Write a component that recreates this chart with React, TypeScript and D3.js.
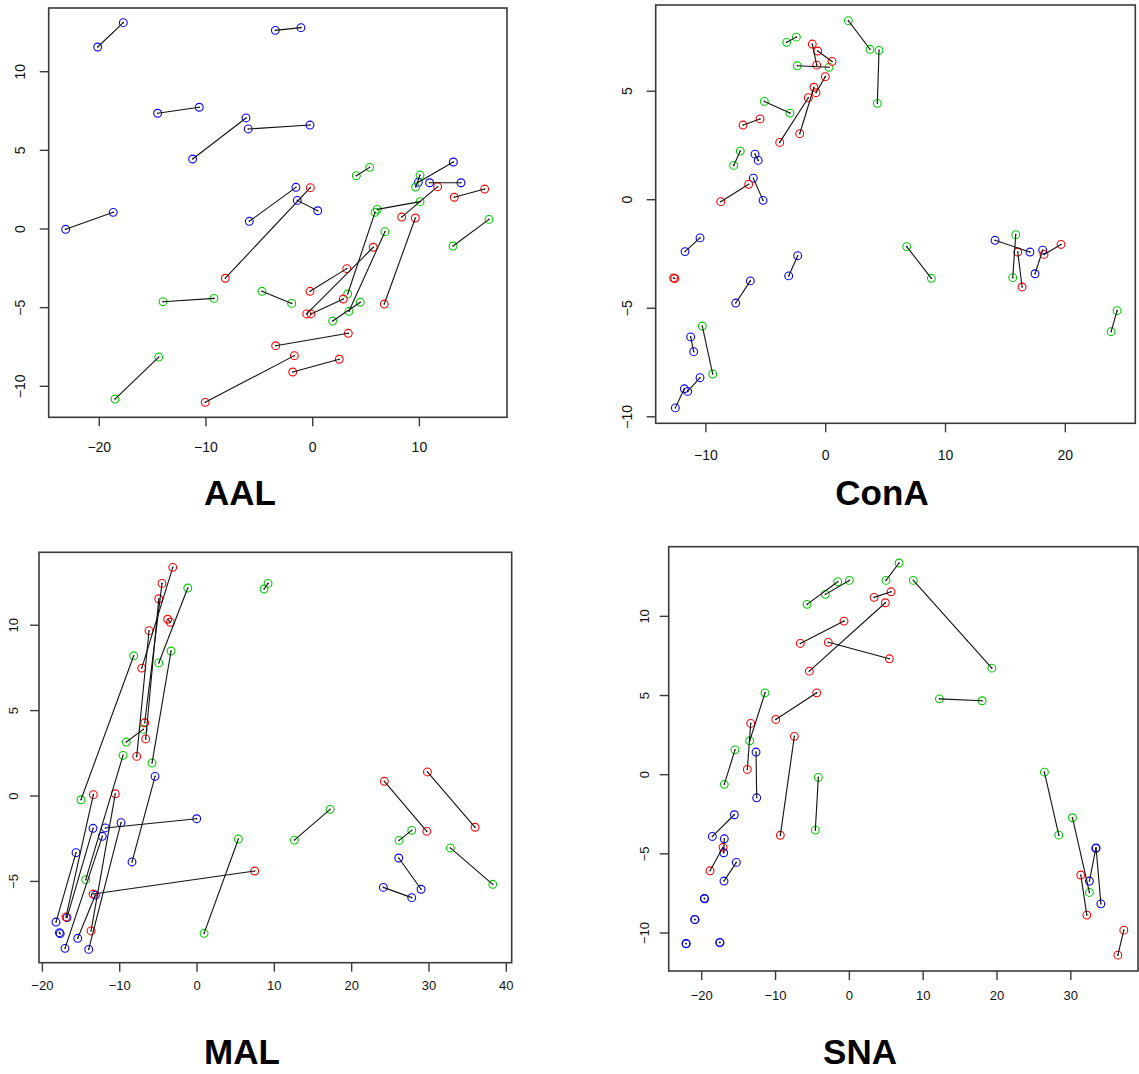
import React from "react";
import * as d3 from "d3";

// Each segment joins two embeddings of one sample: [x1, y1, x2, y2]
type Seg = [number, number, number, number];

// ---- AAL ----
const aalBlue: Seg[] = [
  [-20.15, 11.57, -17.75, 13.12],
  [-3.5, 12.63, -1.1, 12.8],
  [-14.53, 7.36, -10.63, 7.74],
  [-11.25, 4.45, -6.25, 7.06],
  [-6.04, 6.36, -0.25, 6.61],
  [-23.15, -0.02, -18.69, 1.06],
  [-5.94, 0.49, -1.57, 2.65],
  [-1.44, 1.82, 0.47, 1.16],
  [13.18, 4.26, 9.9, 2.97],
  [10.96, 2.94, 13.9, 2.94],
];
const aalGreen: Seg[] = [
  [4.09, 3.39, 5.34, 3.92],
  [10.06, 3.43, 9.65, 2.67],
  [10.06, 1.74, 6.05, 1.25],
  [16.52, 0.61, 13.15, -1.08],
  [5.84, 1.06, 3.28, -4.13],
  [6.77, -0.17, 3.4, -5.23],
  [1.87, -5.85, 4.46, -4.66],
  [-4.75, -3.96, -1.97, -4.73],
  [-14.03, -4.62, -9.25, -4.41],
  [-18.53, -10.81, -14.43, -8.14],
];
const aalRed: Seg[] = [
  [11.71, 2.69, 8.34, 0.76],
  [13.27, 2.02, 16.12, 2.54],
  [6.71, -4.77, 9.62, 0.7],
  [-0.22, 2.63, -8.19, -3.13],
  [-0.25, -3.96, 3.19, -2.52],
  [-0.56, -5.4, 5.68, -1.16],
  [-0.16, -5.4, 2.87, -4.45],
  [-3.47, -7.42, 3.34, -6.63],
  [-10.07, -11.02, -1.72, -8.05],
  [-1.87, -9.09, 2.49, -8.28],
];

// ---- ConA ----
const conaBlue: Seg[] = [
  [-5.9, 2.1, -5.63, 1.81],
  [-6.04, 0.99, -5.23, -0.03],
  [-10.49, -1.76, -11.74, -2.39],
  [-2.34, -2.58, -3.09, -3.51],
  [-6.29, -3.74, -7.51, -4.76],
  [-11.27, -6.32, -11.02, -7.0],
  [-10.49, -8.2, -11.52, -8.83],
  [-11.8, -8.71, -12.55, -9.59],
  [14.13, -1.87, 17.05, -2.41],
  [18.11, -2.32, 17.47, -3.41],
];
const conaGreen: Seg[] = [
  [1.89, 8.25, 3.7, 6.93],
  [4.45, 6.88, 4.31, 4.44],
  [-3.26, 7.25, -2.45, 7.49],
  [-2.37, 6.17, 0.28, 6.1],
  [-5.12, 4.53, -2.98, 3.99],
  [-7.13, 2.24, -7.68, 1.58],
  [-10.3, -5.82, -9.43, -8.03],
  [6.76, -2.16, 8.82, -3.62],
  [15.86, -1.61, 15.61, -3.59],
  [24.32, -5.11, 23.82, -6.08],
];
const conaRed: Seg[] = [
  [-1.12, 7.17, -0.75, 6.2],
  [-0.67, 6.85, 0.53, 6.37],
  [-0.03, 5.67, -0.81, 4.93],
  [-3.84, 2.64, -1.45, 4.7],
  [-2.17, 3.04, -0.98, 5.18],
  [-6.9, 3.44, -5.48, 3.72],
  [-8.76, -0.09, -6.43, 0.71],
  [-12.7, -3.6, -12.6, -3.63],
  [16.03, -2.41, 16.39, -4.02],
  [18.22, -2.52, 19.64, -2.06],
];

// ---- MAL ----
const malBlue: Seg[] = [
  [-11.86, -1.87, -0.04, -1.33],
  [-8.41, -3.86, -5.43, 1.15],
  [-18.24, -7.38, -15.65, -3.32],
  [-16.82, -7.12, -13.45, -1.89],
  [-14.01, -8.98, -9.83, -1.56],
  [-17.8, -8.0, -17.7, -8.06],
  [-17.08, -8.92, -12.25, -2.36],
  [-15.43, -8.33, -13.15, -5.8],
  [26.09, -3.63, 28.98, -5.46],
  [24.1, -5.35, 27.77, -5.95],
];
const malGreen: Seg[] = [
  [-15.01, -0.22, -8.19, 8.21],
  [-14.4, -4.9, -9.57, 2.38],
  [-9.15, 3.16, -6.95, 3.9],
  [-3.36, 8.49, -5.82, 1.93],
  [-1.2, 12.18, -4.95, 7.79],
  [8.67, 12.12, 9.19, 12.45],
  [5.35, -2.52, 0.91, -8.04],
  [12.59, -2.58, 17.21, -0.78],
  [26.13, -2.6, 27.77, -2.01],
  [32.77, -3.04, 38.25, -5.17],
];
const malRed: Seg[] = [
  [-16.95, -7.08, -13.41, 0.08],
  [-13.71, -7.9, -10.57, 0.13],
  [-13.45, -5.74, 7.46, -4.39],
  [-3.14, 13.39, -7.15, 7.49],
  [-4.53, 12.45, -6.77, 4.29],
  [-4.95, 11.55, -6.64, 3.34],
  [-6.21, 9.68, -7.8, 2.32],
  [-3.79, 10.35, -3.45, 10.17],
  [24.23, 0.86, 29.72, -2.07],
  [29.8, 1.41, 35.96, -1.83],
];

// ---- SNA ----
const snaBlue: Seg[] = [
  [-12.64, 1.43, -12.55, -1.46],
  [-15.58, -2.53, -18.56, -3.9],
  [-16.94, -4.05, -17.02, -4.93],
  [-15.31, -5.54, -16.98, -6.72],
  [-19.65, -7.81, -19.6, -7.84],
  [-20.95, -9.14, -20.9, -9.16],
  [-22.13, -10.66, -22.1, -10.68],
  [-17.56, -10.59, -17.52, -10.61],
  [33.38, -4.66, 32.52, -6.72],
  [33.42, -4.62, 34.07, -8.16],
];
const snaGreen: Seg[] = [
  [-5.73, 10.76, -1.57, 12.19],
  [-3.25, 11.39, 0.0, 12.27],
  [-11.42, 5.17, -13.5, 2.14],
  [-15.49, 1.57, -16.94, -0.61],
  [-4.2, -0.17, -4.61, -3.5],
  [6.73, 13.37, 4.97, 12.27],
  [8.67, 12.27, 19.3, 6.73],
  [12.2, 4.79, 17.98, 4.67],
  [26.42, 0.16, 28.37, -3.82],
  [30.22, -2.72, 32.52, -7.44],
];
const snaRed: Seg[] = [
  [-6.64, 8.29, -0.72, 9.7],
  [-2.85, 8.36, 5.42, 7.32],
  [-5.42, 6.54, 4.88, 10.86],
  [-13.36, 3.24, -13.82, 0.33],
  [-9.97, 3.49, -4.42, 5.17],
  [-7.45, 2.42, -9.35, -3.83],
  [-17.11, -4.59, -18.87, -6.07],
  [3.35, 11.2, 5.65, 11.55],
  [31.35, -6.34, 32.17, -8.87],
  [37.18, -9.82, 36.37, -11.4],
];

const panelTitles = ["AAL", "ConA", "MAL", "SNA"];
const aalXTicks = [-20, -10, 0, 10];
const aalYTicks = [-10, -5, 0, 5, 10];
const conaXTicks = [-10, 0, 10, 20];
const conaYTicks = [-10, -5, 0, 5];
const malXTicks = [-20, -10, 0, 10, 20, 30, 40];
const malYTicks = [-5, 0, 5, 10];
const snaXTicks = [-20, -10, 0, 10, 20, 30];
const snaYTicks = [-10, -5, 0, 5, 10];

const RED = "#ff0000";
const GREEN = "#00cd00";
const BLUE = "#0000ff";
const FONT = "'Liberation Sans', Arial, Helvetica, sans-serif";
const fmt = d3.format("d");

type PanelProps = {
  title: string;
  groups: { color: string; segs: Seg[] }[];
  box: { left: number; right: number; top: number; bottom: number };
  xDomain: [number, number];
  yDomain: [number, number];
  xTicks: number[];
  yTicks: number[];
  yLabelOffset: number;
  xLabelOffset: number;
  titlePos: [number, number];
  tickFont: number;
};

function Panel(p: PanelProps) {
  const { box } = p;
  const x = d3.scaleLinear().domain(p.xDomain).range([box.left, box.right]);
  const y = d3.scaleLinear().domain(p.yDomain).range([box.bottom, box.top]);
  const tickLen = 9;
  return (
    <g>
      <rect
        x={box.left}
        y={box.top}
        width={box.right - box.left}
        height={box.bottom - box.top}
        fill="#fff"
        stroke="#3a3a3a"
        strokeWidth={1.6}
      />
      {/* x axis */}
      {p.xTicks.map((t) => (
        <g key={"x" + t}>
          <line x1={x(t)} x2={x(t)} y1={box.bottom} y2={box.bottom + tickLen} stroke="#3a3a3a" strokeWidth={1.4} />
          <text
            x={x(t)}
            y={box.bottom + p.xLabelOffset}
            textAnchor="middle"
            dominantBaseline="central"
            fontFamily={FONT}
            fontSize={p.tickFont}
            fill="#111"
          >
            {fmt(t)}
          </text>
        </g>
      ))}
      {/* y axis */}
      {p.yTicks.map((t) => (
        <g key={"y" + t}>
          <line x1={box.left - tickLen} x2={box.left} y1={y(t)} y2={y(t)} stroke="#3a3a3a" strokeWidth={1.4} />
          <text
            x={box.left - p.yLabelOffset}
            y={y(t)}
            transform={`rotate(-90, ${box.left - p.yLabelOffset}, ${y(t)})`}
            textAnchor="middle"
            dominantBaseline="central"
            fontFamily={FONT}
            fontSize={p.tickFont}
            fill="#111"
          >
            {fmt(t)}
          </text>
        </g>
      ))}
      {/* points */}
      {p.groups.map((g, gi) =>
        g.segs.map((s, i) => (
          <g key={`c${gi}-${i}`}>
            <circle cx={x(s[0])} cy={y(s[1])} r={3.9} fill="none" stroke={g.color} strokeWidth={1.1} />
            <circle cx={x(s[2])} cy={y(s[3])} r={3.9} fill="none" stroke={g.color} strokeWidth={1.1} />
          </g>
        ))
      )}
      {/* connecting segments */}
      {p.groups.map((g, gi) =>
        g.segs.map((s, i) => (
          <g key={`l${gi}-${i}`}>
            <line x1={x(s[0])} y1={y(s[1])} x2={x(s[2])} y2={y(s[3])} stroke="#111" strokeWidth={1.1} />
            <circle cx={x(s[0])} cy={y(s[1])} r={0.8} fill="#111" />
            <circle cx={x(s[2])} cy={y(s[3])} r={0.8} fill="#111" />
          </g>
        ))
      )}
      <text
        x={p.titlePos[0]}
        y={p.titlePos[1]}
        textAnchor="middle"
        fontFamily={FONT}
        fontWeight="bold"
        fontSize={35}
        fill="#000"
      >
        {p.title}
      </text>
    </g>
  );
}

export default function App() {
  return (
    <svg
      width={1139}
      height={1074}
      style={{ position: "absolute", left: 0, top: 0, background: "#fff" }}
    >
      <rect width={1139} height={1074} fill="#fff" />
      <Panel
        title={panelTitles[0]}
        groups={[
          { color: BLUE, segs: aalBlue },
          { color: GREEN, segs: aalGreen },
          { color: RED, segs: aalRed },
        ]}
        box={{ left: 48.7, right: 507, top: 8, bottom: 417.3 }}
        xDomain={[-24.74, 18.21]}
        yDomain={[-11.97, 14.05]}
        xTicks={aalXTicks}
        yTicks={aalYTicks}
        yLabelOffset={28.7}
        xLabelOffset={29.4}
        titlePos={[240, 505]}
        tickFont={14}
      />
      <Panel
        title={panelTitles[1]}
        groups={[
          { color: BLUE, segs: conaBlue },
          { color: GREEN, segs: conaGreen },
          { color: RED, segs: conaRed },
        ]}
        box={{ left: 655.7, right: 1135.3, top: 5, bottom: 423.3 }}
        xDomain={[-14.19, 25.84]}
        yDomain={[-10.3, 8.97]}
        xTicks={conaXTicks}
        yTicks={conaYTicks}
        yLabelOffset={29}
        xLabelOffset={31.7}
        titlePos={[882, 505]}
        tickFont={14}
      />
      <Panel
        title={panelTitles[2]}
        groups={[
          { color: BLUE, segs: malBlue },
          { color: GREEN, segs: malGreen },
          { color: RED, segs: malRed },
        ]}
        box={{ left: 39, right: 511.7, top: 552.3, bottom: 962.7 }}
        xDomain={[-20.44, 40.7]}
        yDomain={[-9.76, 14.27]}
        xTicks={malXTicks}
        yTicks={malYTicks}
        yLabelOffset={25}
        xLabelOffset={23}
        titlePos={[242, 1064]}
        tickFont={13}
      />
      <Panel
        title={panelTitles[3]}
        groups={[
          { color: BLUE, segs: snaBlue },
          { color: GREEN, segs: snaGreen },
          { color: RED, segs: snaRed },
        ]}
        box={{ left: 668.7, right: 1138, top: 546.7, bottom: 971 }}
        xDomain={[-24.47, 39.1]}
        yDomain={[-12.4, 14.4]}
        xTicks={snaXTicks}
        yTicks={snaYTicks}
        yLabelOffset={24}
        xLabelOffset={24}
        titlePos={[860, 1064]}
        tickFont={13}
      />
    </svg>
  );
}
